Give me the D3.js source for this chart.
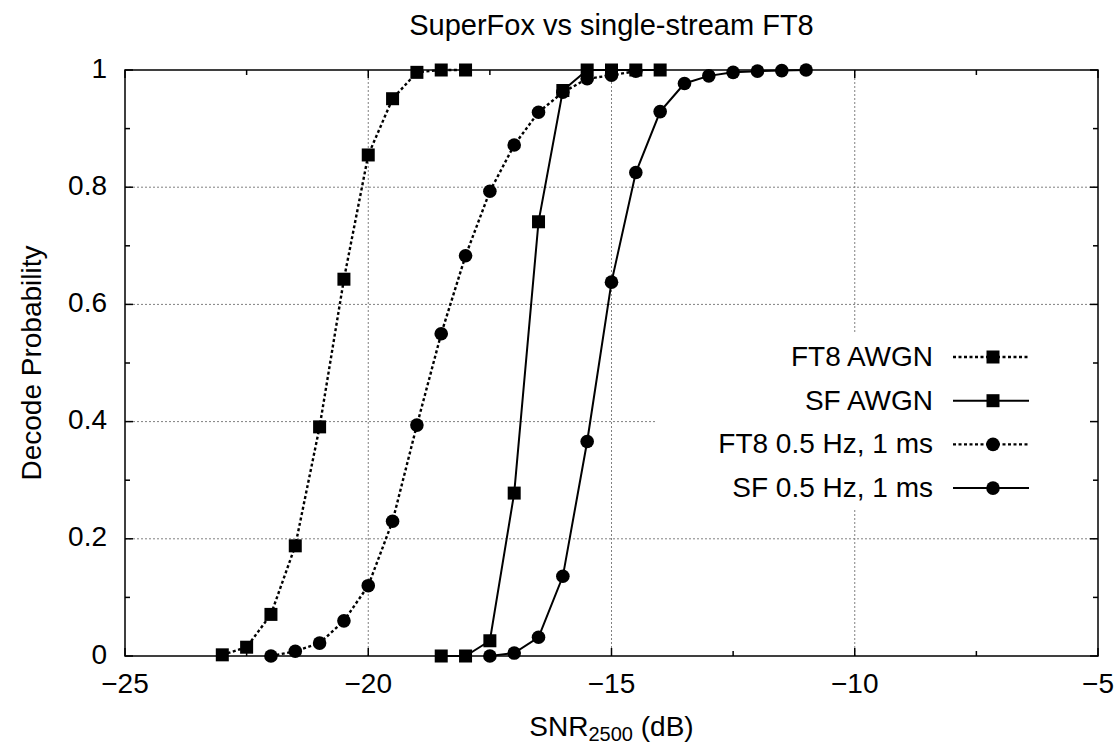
<!DOCTYPE html>
<html>
<head>
<meta charset="utf-8">
<script src="https://cdn.jsdelivr.net/npm/d3@7"></script>
<style>
	body { margin: 0; background: #fff; }
	svg { display: block; font-family: 'Liberation Sans', Arial, Helvetica, sans-serif; }
</style>
</head>
<body>
<svg></svg>
<script>
const width = 1117;
const height = 744;

// data
const ft8AwgnX = [-23, -22.5, -22, -21.5, -21, -20.5, -20, -19.5, -19, -18.5, -18];
const ft8AwgnY = [0.002, 0.015, 0.071, 0.188, 0.391, 0.643, 0.855, 0.951, 0.996, 1.0, 1.0];

const sfAwgnX = [-18.5, -18, -17.5, -17, -16.5, -16, -15.5, -15, -14.5, -14];
const sfAwgnY = [0.0, 0.0, 0.026, 0.278, 0.741, 0.965, 1.0, 1.0, 1.0, 1.0];

const ft8FadeX = [-22, -21.5, -21, -20.5, -20, -19.5, -19, -18.5, -18, -17.5, -17, -16.5, -16, -15.5, -15, -14.5];
const ft8FadeY = [0.0, 0.008, 0.022, 0.06, 0.12, 0.23, 0.394, 0.55, 0.683, 0.793, 0.872, 0.928, 0.962, 0.985, 0.991, 0.998];

const sfFadeX = [-17.5, -17, -16.5, -16, -15.5, -15, -14.5, -14, -13.5, -13, -12.5, -12, -11.5, -11];
const sfFadeY = [0.0, 0.005, 0.032, 0.136, 0.366, 0.638, 0.825, 0.929, 0.977, 0.99, 0.996, 0.998, 0.999, 1.0];

const xTicks = [-25, -20, -15, -10, -5];
const yTicks = [0, 0.2, 0.4, 0.6, 0.8, 1];

const series = [
	{ name: 'FT8 AWGN', xs: ft8AwgnX, ys: ft8AwgnY, dotted: true, marker: 'square' },
	{ name: 'SF AWGN', xs: sfAwgnX, ys: sfAwgnY, dotted: false, marker: 'square' },
	{ name: 'FT8 0.5 Hz, 1 ms', xs: ft8FadeX, ys: ft8FadeY, dotted: true, marker: 'circle' },
	{ name: 'SF 0.5 Hz, 1 ms', xs: sfFadeX, ys: sfFadeY, dotted: false, marker: 'circle' },
];

const pLeft = 125, pRight = 1098, pTop = 70, pBottom = 656;
const fontSize = 28;

const x = d3.scaleLinear().domain([-25, -5]).range([pLeft, pRight]);
const y = d3.scaleLinear().domain([0, 1]).range([pBottom, pTop]);

const svg = d3.select('svg').attr('width', width).attr('height', height);

const fmtX = (d) => (d < 0 ? '\u2212' + Math.abs(d) : String(d));
const fmtY = (d) => (d === 0 || d === 1 ? String(d) : d.toFixed(1));

// grid
const grid = svg.append('g').attr('stroke', '#808080').attr('stroke-width', 1).attr('stroke-dasharray', '2,2');
xTicks.slice(1, -1).forEach((t) => {
	grid.append('line').attr('x1', x(t)).attr('x2', x(t)).attr('y1', pTop).attr('y2', pBottom);
});
yTicks.slice(1, -1).forEach((t) => {
	grid.append('line').attr('x1', pLeft).attr('x2', pRight).attr('y1', y(t)).attr('y2', y(t));
});

// legend box hides the grid below it
svg.append('rect').attr('x', 655).attr('y', 332).attr('width', pRight - 655 - 1).attr('height', 178).attr('fill', '#fff');

// inward ticks, mirrored on all four sides
const axisG = svg.append('g').attr('stroke', '#000').attr('stroke-width', 1.5);
const minorX = d3.range(-25, -4.9, 2.5);
const minorY = d3.range(0, 1.01, 0.1);

function tickLen(isMajor) {
	return isMajor ? 8 : 5;
}

minorX.forEach((t) => {
	const major = Math.abs(t % 5) < 1e-9;
	axisG.append('line').attr('x1', x(t)).attr('x2', x(t)).attr('y1', pBottom).attr('y2', pBottom - tickLen(major));
	axisG.append('line').attr('x1', x(t)).attr('x2', x(t)).attr('y1', pTop).attr('y2', pTop + tickLen(major));
});
minorY.forEach((t) => {
	const major = Math.round(t * 10) % 2 === 0;
	axisG.append('line').attr('x1', pLeft).attr('x2', pLeft + tickLen(major)).attr('y1', y(t)).attr('y2', y(t));
	axisG.append('line').attr('x1', pRight).attr('x2', pRight - tickLen(major)).attr('y1', y(t)).attr('y2', y(t));
});

svg.append('rect')
	.attr('x', pLeft).attr('y', pTop)
	.attr('width', pRight - pLeft).attr('height', pBottom - pTop)
	.attr('fill', 'none').attr('stroke', '#000').attr('stroke-width', 1.5);

// tick labels
svg.append('g').selectAll('text')
	.data(xTicks).enter().append('text')
	.attr('x', (d) => x(d)).attr('y', pBottom + 37)
	.attr('text-anchor', 'middle')
	.attr('font-size', fontSize)
	.text(fmtX);

svg.append('g').selectAll('text')
	.data(yTicks).enter().append('text')
	.attr('x', pLeft - 18).attr('y', (d) => y(d) + 7.5)
	.attr('text-anchor', 'end')
	.attr('font-size', fontSize)
	.text(fmtY);

// titles
svg.append('text').attr('x', (pLeft + pRight) / 2).attr('y', 35)
	.attr('text-anchor', 'middle')
	.attr('font-size', 29).text('SuperFox vs single-stream FT8');

const xl = svg.append('text').attr('x', (pLeft + pRight) / 2).attr('y', 736)
	.attr('text-anchor', 'middle').attr('font-size', fontSize);
xl.append('tspan').text('SNR');
xl.append('tspan').attr('font-size', 20).attr('dy', 5).text('2500');
xl.append('tspan').attr('dy', -5).text(' (dB)');

svg.append('text')
	.attr('transform', `translate(41,${(pTop + pBottom) / 2}) rotate(-90)`)
	.attr('text-anchor', 'middle')
	.attr('font-size', fontSize).text('Decode Probability');

// curves
const line = d3.line().x((d) => x(d[0])).y((d) => y(d[1]));
const plot = svg.append('g');

function drawMarker(g, kind, cx, cy) {
	if (kind === 'square') {
		g.append('rect').attr('x', cx - 6.5).attr('y', cy - 6.5).attr('width', 13).attr('height', 13).attr('fill', '#000');
	} else {
		g.append('circle').attr('cx', cx).attr('cy', cy).attr('r', 6.8).attr('fill', '#000');
	}
}

series.forEach((s) => {
	const pts = s.xs.map((v, i) => [v, s.ys[i]]);
	plot.append('path')
		.attr('d', line(pts))
		.attr('fill', 'none')
		.attr('stroke', '#000')
		.attr('stroke-width', s.dotted ? 2.4 : 2)
		.attr('stroke-dasharray', s.dotted ? '3,2.5' : null);
	const mk = plot.append('g');
	pts.forEach((p) => drawMarker(mk, s.marker, x(p[0]), y(p[1])));
});

// legend
const legend = svg.append('g');
series.forEach((s, i) => {
	const ly = 357 + i * 43.7;
	legend.append('text')
		.attr('x', 933).attr('y', ly + 9)
		.attr('text-anchor', 'end')
		.attr('font-size', fontSize).text(s.name);
	legend.append('line')
		.attr('x1', 953).attr('x2', 1029).attr('y1', ly).attr('y2', ly)
		.attr('stroke', '#000')
		.attr('stroke-width', s.dotted ? 2.4 : 2)
		.attr('stroke-dasharray', s.dotted ? '3,2.5' : null);
	drawMarker(legend, s.marker, 993, ly);
});
</script>
</body>
</html>
